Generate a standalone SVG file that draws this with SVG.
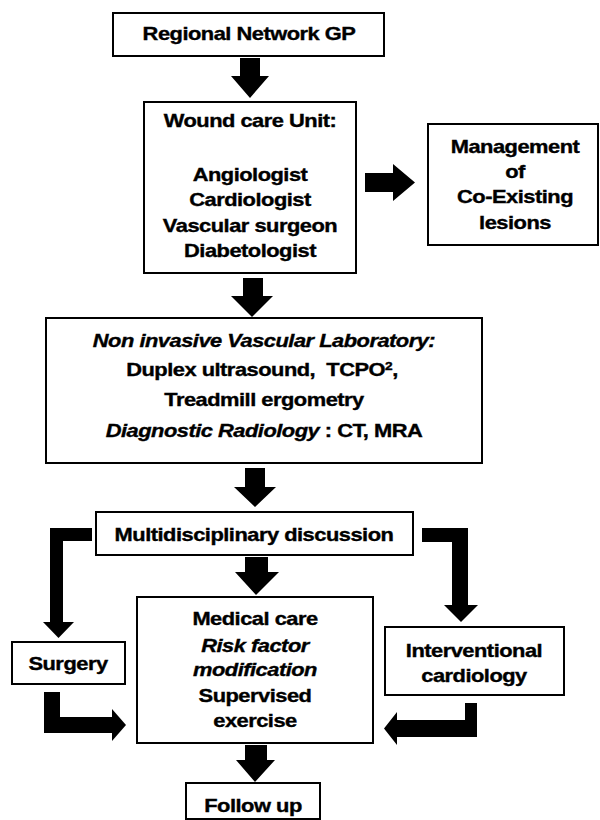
<svg xmlns="http://www.w3.org/2000/svg" width="600" height="820" viewBox="0 0 600 820">
<style>
.box{fill:#fff;stroke:#000;stroke-width:2}
.t{font-family:"Liberation Sans",Arial,sans-serif;font-weight:bold;font-size:17.5px;letter-spacing:-0.4px;text-anchor:middle;fill:#000;stroke:#000;stroke-width:0.35px}
.i{font-style:italic}
.arr{fill:#000;stroke:none}
</style>
<rect width="600" height="820" fill="#fff"/>
<g id="connectors">
<polygon class="arr" points="240,58 260,58 260,76 269,76 250,98 231,76 240,76"/>
<polygon class="arr" points="365,173 393,173 393,164 415,182.5 393,201 393,192 365,192"/>
<polygon class="arr" points="243,278 263,278 263,296 273,296 252,317 231,296 243,296"/>
<polygon class="arr" points="245,468 265,468 265,487 276,487 255,507 234,487 245,487"/>
<polygon class="arr" points="245,557 268,557 268,572 279,572 256,595 235,572 245,572"/>
<polygon class="arr" points="92,528 50,528 50,622 43,622 58.5,638 74,622 63,622 63,541 92,541"/>
<polygon class="arr" points="422,528 468,528 468,605 478,605 461,622 444,605 452,605 452,542 422,542"/>
<polygon class="arr" points="44,692 60,692 60,717 112,717 112,709 126,725 112,741 112,733 44,733"/>
<polygon class="arr" points="477,703 477,737 397,737 397,745 384,728.5 397,712 397,720 465,720 465,703"/>
<polygon class="arr" points="245,745 267,745 267,760 275,760 255,782 236,760 245,760"/>
</g>
<g id="regional">
<rect class="box" x="113" y="13" width="271" height="43"/>
<text class="t" transform="translate(249 0) scale(1.25 1)" x="0" y="40">Regional Network GP</text>
</g>
<g id="wound">
<rect class="box" x="144" y="102" width="212" height="171"/>
<text class="t" transform="translate(250 0) scale(1.25 1)" x="0" y="127">Wound care Unit:</text>
<text class="t" transform="translate(250 0) scale(1.25 1)" x="0" y="181">Angiologist</text>
<text class="t" transform="translate(250 0) scale(1.25 1)" x="0" y="206">Cardiologist</text>
<text class="t" transform="translate(250 0) scale(1.25 1)" x="0" y="232">Vascular surgeon</text>
<text class="t" transform="translate(250 0) scale(1.25 1)" x="0" y="257">Diabetologist</text>
</g>
<g id="management">
<rect class="box" x="428" y="124" width="170" height="121"/>
<text class="t" transform="translate(515 0) scale(1.25 1)" x="0" y="153">Management</text>
<text class="t" transform="translate(515 0) scale(1.25 1)" x="0" y="178">of</text>
<text class="t" transform="translate(515 0) scale(1.25 1)" x="0" y="203">Co-Existing</text>
<text class="t" transform="translate(515 0) scale(1.25 1)" x="0" y="229">lesions</text>
</g>
<g id="noninvasive">
<rect class="box" x="46" y="318" width="436" height="145"/>
<text class="t i" transform="translate(264 0) scale(1.25 1)" x="0" y="347">Non invasive Vascular Laboratory:</text>
<text class="t" xml:space="preserve" transform="translate(262 0) scale(1.25 1)" x="0" y="376">Duplex ultrasound,  TCPO<tspan font-size="11" dy="-6">2</tspan><tspan dy="6">,</tspan></text>
<text class="t" transform="translate(264 0) scale(1.25 1)" x="0" y="406">Treadmill ergometry</text>
<text class="t" transform="translate(264 0) scale(1.25 1)" x="0" y="437"><tspan class="i">Diagnostic Radiology</tspan> : CT, MRA</text>
</g>
<g id="multidisciplinary">
<rect class="box" x="96" y="512" width="317" height="43"/>
<text class="t" transform="translate(254 0) scale(1.25 1)" x="0" y="541">Multidisciplinary discussion</text>
</g>
<g id="surgery">
<rect class="box" x="12" y="642" width="113" height="42"/>
<text class="t" transform="translate(68 0) scale(1.25 1)" x="0" y="670">Surgery</text>
</g>
<g id="medical">
<rect class="box" x="137" y="597" width="236" height="146"/>
<text class="t" transform="translate(255 0) scale(1.25 1)" x="0" y="625">Medical care</text>
<text class="t i" transform="translate(255 0) scale(1.25 1)" x="0" y="652">Risk factor</text>
<text class="t i" transform="translate(255 0) scale(1.25 1)" x="0" y="676">modification</text>
<text class="t" transform="translate(255 0) scale(1.25 1)" x="0" y="702">Supervised</text>
<text class="t" transform="translate(255 0) scale(1.25 1)" x="0" y="727">exercise</text>
</g>
<g id="interventional">
<rect class="box" x="385" y="627" width="179" height="68"/>
<text class="t" transform="translate(474 0) scale(1.25 1)" x="0" y="657">Interventional</text>
<text class="t" transform="translate(474 0) scale(1.25 1)" x="0" y="682">cardiology</text>
</g>
<g id="followup">
<rect class="box" x="186" y="783" width="134" height="36"/>
<text class="t" transform="translate(253 0) scale(1.25 1)" x="0" y="812">Follow up</text>
</g>
</svg>
